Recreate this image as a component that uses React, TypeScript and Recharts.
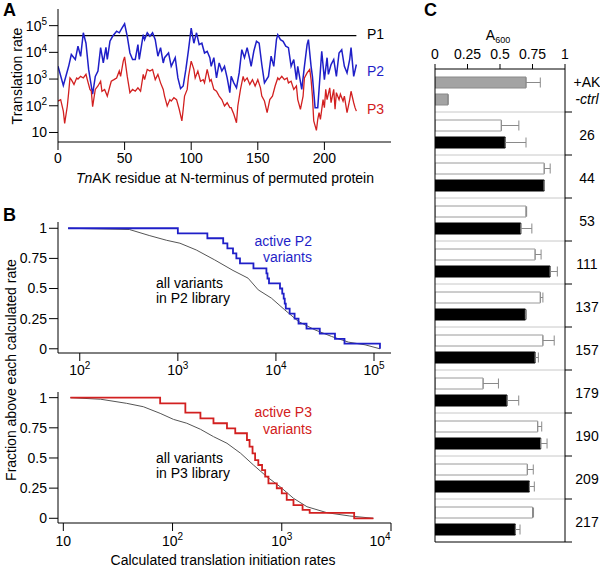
import React from 'react';
import {
  LineChart, Line, XAxis, YAxis, ReferenceArea, ReferenceLine,
  BarChart, Bar, Cell, ErrorBar,
} from 'recharts';

const FONT = '"Liberation Sans", Arial, Helvetica, sans-serif';
const BLUE = '#1f1fc8';
const RED = '#d22020';
const FS = 14;

// ---------- Panel A ----------
const p1Residues = [0, 224];
const p1Rates = [42000, 42000];

const p2Residues = [0, 4, 8, 10, 13, 15, 17, 19, 21, 23, 26, 28, 30, 32, 34, 36, 37, 39, 41, 44, 46, 48, 50, 52, 54, 56, 58, 60, 61, 64, 65, 67, 69, 71, 73, 75, 77, 79, 80, 83, 85, 88, 90, 92, 94, 96, 98, 100, 102, 104, 106, 108, 110, 112, 114, 115, 117, 119, 121, 123, 125, 127, 129, 130, 132, 134, 136, 138, 140, 142, 144, 145, 147, 149, 151, 153, 155, 158, 160, 162, 164, 165, 167, 169, 171, 173, 175, 177, 179, 180, 183, 185, 187, 188, 190, 191, 193, 195, 196, 198, 200, 202, 203, 205, 207, 209, 211, 213, 215, 217, 219, 220, 222, 224];
const p2Rates = [3000, 580, 3000, 8300, 5400, 17000, 7100, 54000, 22000, 2300, 270, 1260, 2000, 15000, 4000, 15500, 5400, 26000, 40000, 62000, 54000, 81000, 117000, 40000, 9500, 5400, 5400, 19500, 5400, 46000, 30000, 54000, 40000, 54000, 30000, 7200, 15000, 4000, 6300, 9500, 3000, 6300, 1100, 440, 550, 2300, 12600, 81000, 22000, 54000, 19500, 22000, 9500, 11000, 6300, 3000, 6300, 1100, 4000, 2000, 3000, 1100, 310, 1260, 720, 470, 1700, 12600, 6300, 15000, 5400, 3000, 11000, 26000, 22000, 3500, 720, 1260, 7200, 3000, 30000, 46000, 30000, 26000, 17000, 15000, 3000, 5400, 950, 3000, 410, 3000, 19500, 30000, 3000, 1260, 85, 85, 410, 11000, 950, 6300, 1500, 3500, 5400, 1260, 9500, 12600, 3000, 1700, 5400, 15000, 1260, 3500];

const p3Residues = [0, 2, 4, 5, 7, 8, 9, 10, 12, 14, 15, 17, 19, 21, 22, 24, 25, 26, 28, 30, 32, 33, 35, 37, 39, 40, 42, 44, 46, 47, 49, 50, 52, 54, 56, 58, 60, 62, 64, 65, 67, 69, 71, 73, 75, 77, 79, 80, 82, 84, 85, 87, 89, 91, 93, 94, 95, 97, 98, 100, 102, 103, 105, 107, 109, 110, 112, 114, 115, 117, 119, 121, 123, 125, 127, 129, 130, 132, 134, 135, 137, 139, 140, 142, 144, 146, 148, 150, 152, 153, 155, 157, 159, 161, 163, 165, 166, 168, 170, 172, 173, 175, 177, 179, 180, 182, 184, 185, 187, 189, 190, 191, 192, 194, 195, 196, 197, 199, 200, 201, 202, 204, 205, 207, 208, 209, 211, 212, 214, 215, 217, 219, 220, 222, 223, 224];
const p3Rates = [150, 170, 63, 22, 98, 310, 1100, 950, 630, 1100, 1000, 1260, 1100, 1500, 950, 410, 350, 93, 410, 550, 830, 350, 410, 230, 550, 830, 950, 1100, 2000, 1260, 4700, 6800, 1260, 310, 410, 350, 470, 350, 1500, 950, 2300, 2000, 2300, 950, 1500, 720, 410, 230, 98, 170, 150, 200, 170, 74, 27, 74, 230, 410, 1260, 4700, 2300, 1100, 2000, 830, 950, 720, 2300, 830, 950, 410, 350, 230, 170, 98, 130, 85, 85, 48, 23, 98, 410, 1260, 830, 1100, 630, 950, 550, 950, 470, 230, 150, 55, 170, 230, 550, 1100, 950, 1260, 950, 1100, 720, 830, 410, 550, 170, 74, 230, 1100, 1700, 2300, 950, 230, 27, 12, 31, 55, 31, 170, 85, 410, 170, 470, 130, 410, 74, 310, 170, 270, 150, 230, 55, 170, 350, 130, 85, 63];

const aResidueTicks = [0, 50, 100, 150, 200];
const aRateTicks = [10, 100, 1000, 10000, 100000];

// ---------- Panel B ----------
const p2AllRates = [76, 320, 510, 770, 1050, 1540, 2380, 3650, 5200, 6600, 9000, 12300, 17000, 25000, 37000, 55000, 81000, 115000];
const p2AllFrac = [1, 0.99, 0.94, 0.9, 0.876, 0.82, 0.737, 0.65, 0.586, 0.489, 0.42, 0.323, 0.226, 0.157, 0.102, 0.055, 0.033, 0];
const p2ActiveRates = [76, 1000, 2000, 2900, 3200, 3650, 3950, 4300, 5900, 8000, 8200, 8500, 11000, 11600, 12000, 12300, 12600, 13800, 15500, 17000, 20500, 28000, 40000, 50000, 115000];
const p2ActiveFrac = [1, 0.958, 0.917, 0.875, 0.833, 0.792, 0.75, 0.708, 0.667, 0.625, 0.583, 0.542, 0.5, 0.458, 0.417, 0.375, 0.333, 0.292, 0.25, 0.208, 0.167, 0.125, 0.083, 0.042, 0];

const p3AllRates = [11.6, 22, 38, 54, 77, 102, 135, 180, 237, 315, 420, 550, 730, 965, 1280, 1700, 2600, 4200, 6900];
const p3AllFrac = [1, 0.987, 0.953, 0.925, 0.87, 0.82, 0.788, 0.738, 0.677, 0.622, 0.539, 0.442, 0.345, 0.262, 0.166, 0.096, 0.046, 0.019, 0];
const p3ActiveRates = [11.6, 77, 131, 180, 237, 315, 375, 480, 507, 540, 570, 610, 660, 705, 755, 900, 1000, 1110, 1280, 1550, 1800, 4600, 6900];
const p3ActiveFrac = [1, 0.953, 0.876, 0.829, 0.788, 0.746, 0.705, 0.649, 0.594, 0.539, 0.483, 0.442, 0.4, 0.345, 0.29, 0.249, 0.207, 0.152, 0.11, 0.069, 0.045, 0, 0];

const bFracTicks = [0, 0.25, 0.5, 0.75, 1];
const bTopRateTicks = [100, 1000, 10000, 100000];
const bBottomRateTicks = [10, 100, 1000, 10000];

// ---------- Panel C ----------
const cGroups = ['ctrl', '26', '44', '53', '111', '137', '157', '179', '190', '209', '217'];
const cFirst = [0.70, 0.51, 0.84, 0.70, 0.77, 0.81, 0.83, 0.37, 0.79, 0.71, 0.75];
const cFirstErr = [0.11, 0.135, 0.046, 0.005, 0.046, 0.02, 0.087, 0.118, 0.031, 0.046, 0.008];
const cSecond = [0.10, 0.54, 0.84, 0.66, 0.885, 0.695, 0.77, 0.554, 0.813, 0.726, 0.618];
const cSecondErr = [0, 0.16, 0, 0.085, 0.056, 0.008, 0.025, 0.09, 0.049, 0.038, 0.036];
const cAxisTicks = [0, 0.25, 0.5, 0.75, 1];

const zip = (xs: number[], ys: number[]) => xs.map((x, i) => ({ x, y: ys[i] }));

const p1Data = zip(p1Residues, p1Rates);
const p2Data = zip(p2Residues, p2Rates);
const p3Data = zip(p3Residues, p3Rates);
const p2All = zip(p2AllRates, p2AllFrac);
const p2Active = zip(p2ActiveRates, p2ActiveFrac);
const p3All = zip(p3AllRates, p3AllFrac);
const p3Active = zip(p3ActiveRates, p3ActiveFrac);

const cData = cGroups.map((g, i) => ({
  group: g,
  a: cFirst[i],
  aErr: [0, cFirstErr[i]],
  b: cSecond[i],
  bErr: [0, cSecondErr[i]],
}));

function PowTickY(props: any) {
  const { x, y, payload } = props;
  const exp = Math.round(Math.log10(payload.value));
  return (
    <text x={x} y={y} textAnchor="end" fontSize={FS} fill="#000" fontFamily={FONT}>
      <tspan dy="0.35em">10</tspan>
      {exp !== 1 && <tspan dy="-0.55em" fontSize={10}>{exp}</tspan>}
    </text>
  );
}

function PowTickX(props: any) {
  const { x, y, payload } = props;
  const exp = Math.round(Math.log10(payload.value));
  return (
    <text x={x} y={y} textAnchor="middle" fontSize={FS} fill="#000" fontFamily={FONT}>
      <tspan dy="0.75em">10</tspan>
      {exp !== 1 && <tspan dy="-0.55em" fontSize={10}>{exp}</tspan>}
    </text>
  );
}

function GroupTick(props: any) {
  const { x, y, payload } = props;
  const cx = x + 22;
  if (payload.value === 'ctrl') {
    return (
      <g fontFamily={FONT}>
        <text x={cx} y={y - 8} dy="0.35em" textAnchor="middle" fontSize={FS} fill="#000">+AK</text>
        <text x={cx} y={y + 9} dy="0.35em" textAnchor="middle" fontSize={FS} fill="#000" fontStyle="italic">-ctrl</text>
      </g>
    );
  }
  return (
    <text x={cx} y={y} dy="0.45em" textAnchor="middle" fontSize={FS} fill="#000" fontFamily={FONT}>
      {payload.value}
    </text>
  );
}

function SepLine(props: any) {
  const { x1, x2, y1 } = props;
  const l = Math.min(x1, x2);
  const r = Math.max(x1, x2);
  return (
    <g>
      <line x1={l} x2={r} y1={y1} y2={y1} stroke="#c8c8c8" strokeWidth={1} />
      <line x1={r} x2={r + 7} y1={y1} y2={y1} stroke="#000" strokeWidth={1} />
    </g>
  );
}

function BottomLine(props: any) {
  const { x1, x2, y1 } = props;
  const l = Math.min(x1, x2);
  const r = Math.max(x1, x2);
  return <line x1={l} x2={r + 7} y1={y1} y2={y1} stroke="#000" strokeWidth={1} />;
}

const tickStyle = { fill: '#000', fontSize: FS, fontFamily: FONT };

export default function App() {
  return (
    <div style={{ position: 'absolute', left: 0, top: 0, width: 600, height: 569, background: '#fff', fontFamily: FONT }}>
      {/* Panel A */}
      <div style={{ position: 'absolute', left: 0, top: 0 }}>
        <LineChart width={400} height={185} margin={{ top: 9, right: 9, bottom: 0, left: 0 }}>
          <XAxis dataKey="x" type="number" domain={[0, 250]} ticks={aResidueTicks} allowDataOverflow
            height={43} tickSize={8} tickMargin={3} stroke="#000" tick={tickStyle} />
          <YAxis type="number" scale="log" domain={[4.4, 420000]} allowDataOverflow ticks={aRateTicks}
            width={58} tickSize={9} tickMargin={2} stroke="#000" tick={<PowTickY />} />
          <ReferenceArea fill="none" stroke="#000" strokeWidth={1} fillOpacity={0} />
          <Line data={p1Data} dataKey="y" type="linear" stroke="#000" strokeWidth={1.3} dot={false} activeDot={false} isAnimationActive={false} />
          <Line data={p2Data} dataKey="y" type="linear" stroke={BLUE} strokeWidth={1.5} dot={false} activeDot={false} isAnimationActive={false} />
          <Line data={p3Data} dataKey="y" type="linear" stroke={RED} strokeWidth={1.3} dot={false} activeDot={false} isAnimationActive={false} />
        </LineChart>
      </div>

      {/* Panel B top */}
      <div style={{ position: 'absolute', left: 0, top: 200 }}>
        <LineChart width={400} height={180} margin={{ top: 22, right: 9, bottom: 0, left: 0 }}>
          <XAxis dataKey="x" type="number" scale="log" domain={[60, 149000]} allowDataOverflow ticks={bTopRateTicks}
            height={27} tickSize={8} tickMargin={3} stroke="#000" tick={<PowTickX />} />
          <YAxis type="number" domain={[-0.035, 1.052]} allowDataOverflow ticks={bFracTicks}
            width={58} tickSize={9} tickMargin={2} stroke="#000" tick={tickStyle} />
          <ReferenceArea fill="none" stroke="#000" strokeWidth={1} fillOpacity={0} />
          <Line data={p2All} dataKey="y" type="linear" stroke="#555" strokeWidth={1} dot={false} activeDot={false} isAnimationActive={false} />
          <Line data={p2Active} dataKey="y" type="stepAfter" stroke={BLUE} strokeWidth={1.8} dot={false} activeDot={false} isAnimationActive={false} />
        </LineChart>
      </div>

      {/* Panel B bottom */}
      <div style={{ position: 'absolute', left: 0, top: 380 }}>
        <LineChart width={400} height={189} margin={{ top: 12, right: 9, bottom: 0, left: 0 }}>
          <XAxis dataKey="x" type="number" scale="log" domain={[8.94, 10000]} allowDataOverflow ticks={bBottomRateTicks}
            height={46} tickSize={8} tickMargin={4} stroke="#000" tick={<PowTickX />} />
          <YAxis type="number" domain={[-0.039, 1.047]} allowDataOverflow ticks={bFracTicks}
            width={58} tickSize={9} tickMargin={2} stroke="#000" tick={tickStyle} />
          <ReferenceArea fill="none" stroke="#000" strokeWidth={1} fillOpacity={0} />
          <Line data={p3All} dataKey="y" type="linear" stroke="#555" strokeWidth={1} dot={false} activeDot={false} isAnimationActive={false} />
          <Line data={p3Active} dataKey="y" type="stepAfter" stroke={RED} strokeWidth={1.8} dot={false} activeDot={false} isAnimationActive={false} />
        </LineChart>
      </div>

      {/* Panel C */}
      <div style={{ position: 'absolute', left: 400, top: 0 }}>
        <BarChart layout="vertical" width={200} height={569} data={cData}
          margin={{ top: 0, right: 0, bottom: 27, left: 35 }} barSize={11} barGap={6}>
          <XAxis type="number" orientation="top" domain={[0, 1]} ticks={cAxisTicks} allowDataOverflow
            height={69} tickSize={5} tickMargin={5} stroke="#000" tick={tickStyle} />
          <YAxis type="category" dataKey="group" orientation="right" width={35}
            tickLine={false} tickSize={0} tickMargin={0} stroke="#000" tick={<GroupTick />} />
          {cGroups.slice(1).map((g) => (
            <ReferenceLine key={g} y={g} position="start" shape={SepLine} />
          ))}
          <Bar dataKey="a" isAnimationActive={false} strokeWidth={1}>
            {cData.map((d, i) => (
              <Cell key={d.group} fill={i === 0 ? '#a3a3a3' : '#ffffff'} stroke={i === 0 ? '#8a8a8a' : '#9a9a9a'} />
            ))}
            <ErrorBar dataKey="aErr" direction="x" width={5} stroke="#8a8a8a" strokeWidth={1} />
          </Bar>
          <Bar dataKey="b" isAnimationActive={false} strokeWidth={1}>
            {cData.map((d, i) => (
              <Cell key={d.group} fill={i === 0 ? '#a3a3a3' : '#000000'} stroke={i === 0 ? '#8a8a8a' : '#000000'} />
            ))}
            <ErrorBar dataKey="bErr" direction="x" width={5} stroke="#8a8a8a" strokeWidth={1} />
          </Bar>
          <ReferenceLine x={0} stroke="#000" strokeWidth={1} />
          <ReferenceLine y={cGroups[cGroups.length - 1]} position="end" shape={BottomLine} />
        </BarChart>
      </div>

      {/* Text annotations */}
      <svg width={600} height={569} style={{ position: 'absolute', left: 0, top: 0, pointerEvents: 'none' }} fontFamily={FONT}>
        <text x={3} y={16} fontSize={18} fontWeight="bold" fill="#000">A</text>
        <text x={3} y={221} fontSize={18} fontWeight="bold" fill="#000">B</text>
        <text x={424} y={16} fontSize={18} fontWeight="bold" fill="#000">C</text>

        <text transform="translate(22,76) rotate(-90)" textAnchor="middle" fontSize={FS} fill="#000">Translation rate</text>
        <text x={225} y={183} textAnchor="middle" fontSize={FS} fill="#000">
          <tspan fontStyle="italic">Tn</tspan>AK residue at N-terminus of permuted protein
        </text>
        <text x={367} y={39} fontSize={FS} fill="#000">P1</text>
        <text x={367} y={76} fontSize={FS} fill={BLUE}>P2</text>
        <text x={367} y={114} fontSize={FS} fill={RED}>P3</text>

        <text transform="translate(16,370) rotate(-90)" textAnchor="middle" fontSize={FS} fill="#000">Fraction above each calculated rate</text>
        <text x={312} y={246} textAnchor="end" fontSize={FS} fill={BLUE}>active P2</text>
        <text x={312} y={262} textAnchor="end" fontSize={FS} fill={BLUE}>variants</text>
        <text x={156} y={288} fontSize={FS} fill="#000">all variants</text>
        <text x={156} y={303} fontSize={FS} fill="#000">in P2 library</text>

        <text x={312} y={417} textAnchor="end" fontSize={FS} fill={RED}>active P3</text>
        <text x={312} y={434} textAnchor="end" fontSize={FS} fill={RED}>variants</text>
        <text x={156} y={463} fontSize={FS} fill="#000">all variants</text>
        <text x={156} y={478} fontSize={FS} fill="#000">in P3 library</text>
        <text x={223} y={565} textAnchor="middle" fontSize={FS} fill="#000">Calculated translation initiation rates</text>

        <text x={498} y={40} textAnchor="middle" fontSize={FS} fill="#000">
          A<tspan fontSize={9} dy={3}>600</tspan>
        </text>
      </svg>
    </div>
  );
}
